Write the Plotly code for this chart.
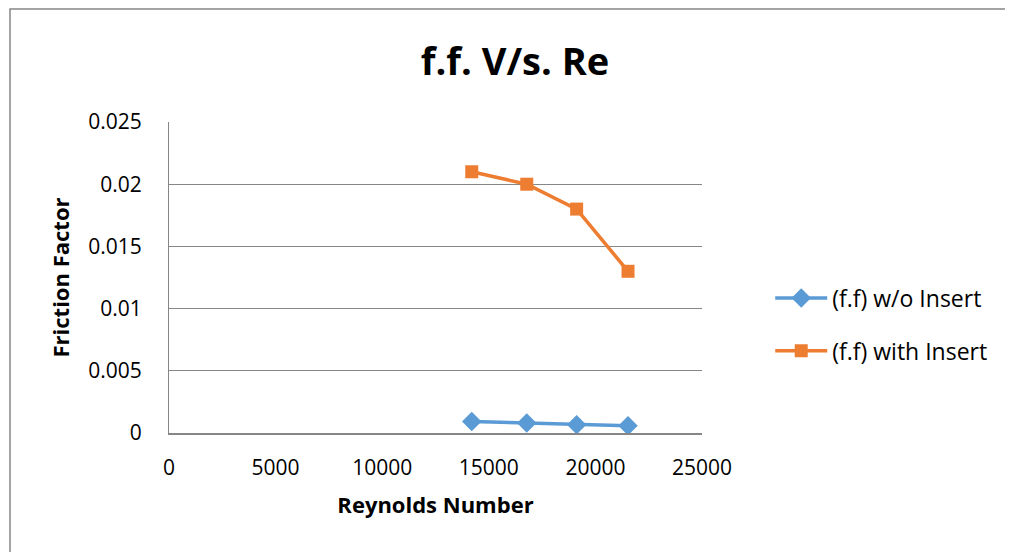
import plotly.graph_objects as go

reynolds = [14200, 16780, 19120, 21530]
ff_without = [0.00093, 0.0008, 0.00067, 0.00059]
ff_with = [0.021, 0.020, 0.018, 0.013]
x_ticks = [0, 5000, 10000, 15000, 20000, 25000]
y_ticks = [0, 0.005, 0.01, 0.015, 0.02, 0.025]
y_tick_text = ["0", "0.005", "0.01", "0.015", "0.02", "0.025"]

FONT = "Open Sans"
GRAY = "#868686"
PAGE_OFF = 8  # default body margin of the html page

fig = go.Figure()
fig.add_trace(go.Scatter(
    x=reynolds, y=ff_without, name="(f.f) w/o Insert", mode="lines+markers",
    legendgroup="a",
    line=dict(color="#5B9BD5", width=3.5),
    marker=dict(symbol="diamond", size=15, color="#5B9BD5")))
fig.add_trace(go.Scatter(
    x=reynolds, y=ff_with, name="(f.f) with Insert", mode="lines+markers",
    legendgroup="b",
    line=dict(color="#ED7D31", width=3.5),
    marker=dict(symbol="square", size=13, color="#ED7D31")))

fig.update_layout(
    width=1013 - PAGE_OFF, height=552 - PAGE_OFF,
    margin=dict(l=169 - PAGE_OFF, r=1013 - 702, t=122 - PAGE_OFF, b=552 - 433, pad=0),
    paper_bgcolor="white", plot_bgcolor="white",
    font=dict(family=FONT, size=22, color="black"),
    title=dict(text="<b>f.f. V/s. Re</b>", x=(515 - PAGE_OFF) / 1005, xanchor="center",
               y=1 - (62 - PAGE_OFF) / 544, yanchor="middle", font=dict(size=38, family=FONT)),
    xaxis=dict(range=[0, 25000], tickvals=x_ticks, ticktext=[str(v) for v in x_ticks],
               showgrid=False, showline=True, linecolor=GRAY, linewidth=1.5,
               zeroline=False, ticks="outside", ticklen=15, tickcolor="rgba(0,0,0,0)",
               tickfont=dict(size=21),
               title=dict(text="<b>Reynolds Number</b>", font=dict(size=22), standoff=18)),
    yaxis=dict(range=[0, 0.025], tickvals=y_ticks, ticktext=y_tick_text,
               showgrid=True, gridcolor=GRAY, gridwidth=1,
               showline=True, linecolor=GRAY, linewidth=1,
               zeroline=False, ticks="outside", ticklen=22, tickcolor="rgba(0,0,0,0)",
               tickfont=dict(size=21),
               title=dict(text="<b>Friction Factor</b>", font=dict(size=22), standoff=12)),
    legend=dict(x=1.128, y=0.349, xanchor="left", yanchor="middle",
                font=dict(size=23), tracegroupgap=20, itemwidth=52,
                bgcolor="rgba(0,0,0,0)"),
    shapes=[dict(type="rect", xref="paper", yref="paper",
                 x0=(10 - 169) / 533, x1=(1011 - 169) / 533,
                 y0=(433 - 560) / 311, y1=(433 - 9) / 311,
                 line=dict(color=GRAY, width=1.5), fillcolor="rgba(0,0,0,0)",
                 layer="below")],
)

fig.write_html("out.html")
